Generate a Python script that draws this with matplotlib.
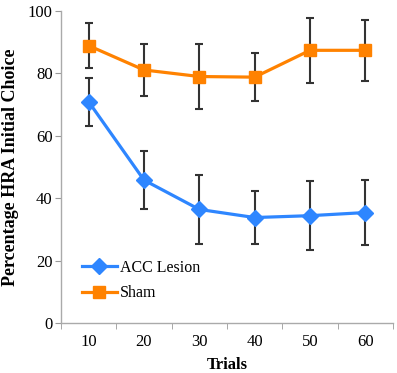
import matplotlib
matplotlib.use("Agg")
import matplotlib.pyplot as plt

trials = [10, 20, 30, 40, 50, 60]
acc = [70.9, 45.8, 36.4, 33.8, 34.4, 35.4]
acc_err = [7.6, 9.2, 11.0, 8.4, 11.1, 10.5]
sham = [88.9, 81.1, 79.0, 78.8, 87.4, 87.4]
sham_err = [7.3, 8.3, 10.3, 7.8, 10.4, 9.7]
yticks = [0, 20, 40, 60, 80, 100]

plt.rcParams['font.family'] = ['Liberation Serif', 'DejaVu Serif']

fig = plt.figure(figsize=(3.97, 3.73), dpi=100)
ax = fig.add_axes([61/397, 50/373, 332/397, 312/373])

x = list(range(len(trials)))
ax.errorbar(x, acc, yerr=acc_err, fmt='none', ecolor='#333333', elinewidth=1.5, capsize=3, capthick=1.5, zorder=2)
ax.errorbar(x, sham, yerr=sham_err, fmt='none', ecolor='#333333', elinewidth=1.5, capsize=3, capthick=1.5, zorder=2)
ax.plot(x, acc, color='#2E86FF', lw=2.3, marker='D', ms=8, label='ACC Lesion', zorder=3)
ax.plot(x, sham, color='#FF8200', lw=2.3, marker='s', ms=8, label='Sham', zorder=3)

ax.set_xlim(-0.5, len(trials) - 0.5)
ax.set_ylim(0, 100)
ax.set_xticks(x)
ax.set_xticklabels([str(t) for t in trials], fontsize=12)
ax.set_xticks([i - 0.5 for i in range(len(trials) + 1)], minor=True)
ax.tick_params(axis='x', which='major', length=0, pad=8)
ax.tick_params(axis='x', which='minor', length=4, color='#999999', direction='out')
ax.set_yticks(yticks)
ax.set_yticklabels([str(v) for v in yticks], fontsize=12)
ax.tick_params(axis='y', length=4, color='#999999', direction='out', pad=2)

for s in ['top', 'right']:
    ax.spines[s].set_visible(False)
for s in ['left', 'bottom']:
    ax.spines[s].set_color('#AAAAAA')
    ax.spines[s].set_linewidth(1)

ax.set_xlabel('Trials', fontsize=12, fontweight='bold', labelpad=5)
ax.set_ylabel('Percentage HRA Initial Choice', fontsize=13, fontweight='bold')
ax.yaxis.set_label_coords(-0.125, 0.5)

leg = ax.legend(loc='center left', bbox_to_anchor=(0.063, 0.136), frameon=False, fontsize=11.5,
                handlelength=2.2, handletextpad=0.2, labelspacing=0.6, borderpad=0, borderaxespad=0)

fig.savefig('out.png', dpi=100)
